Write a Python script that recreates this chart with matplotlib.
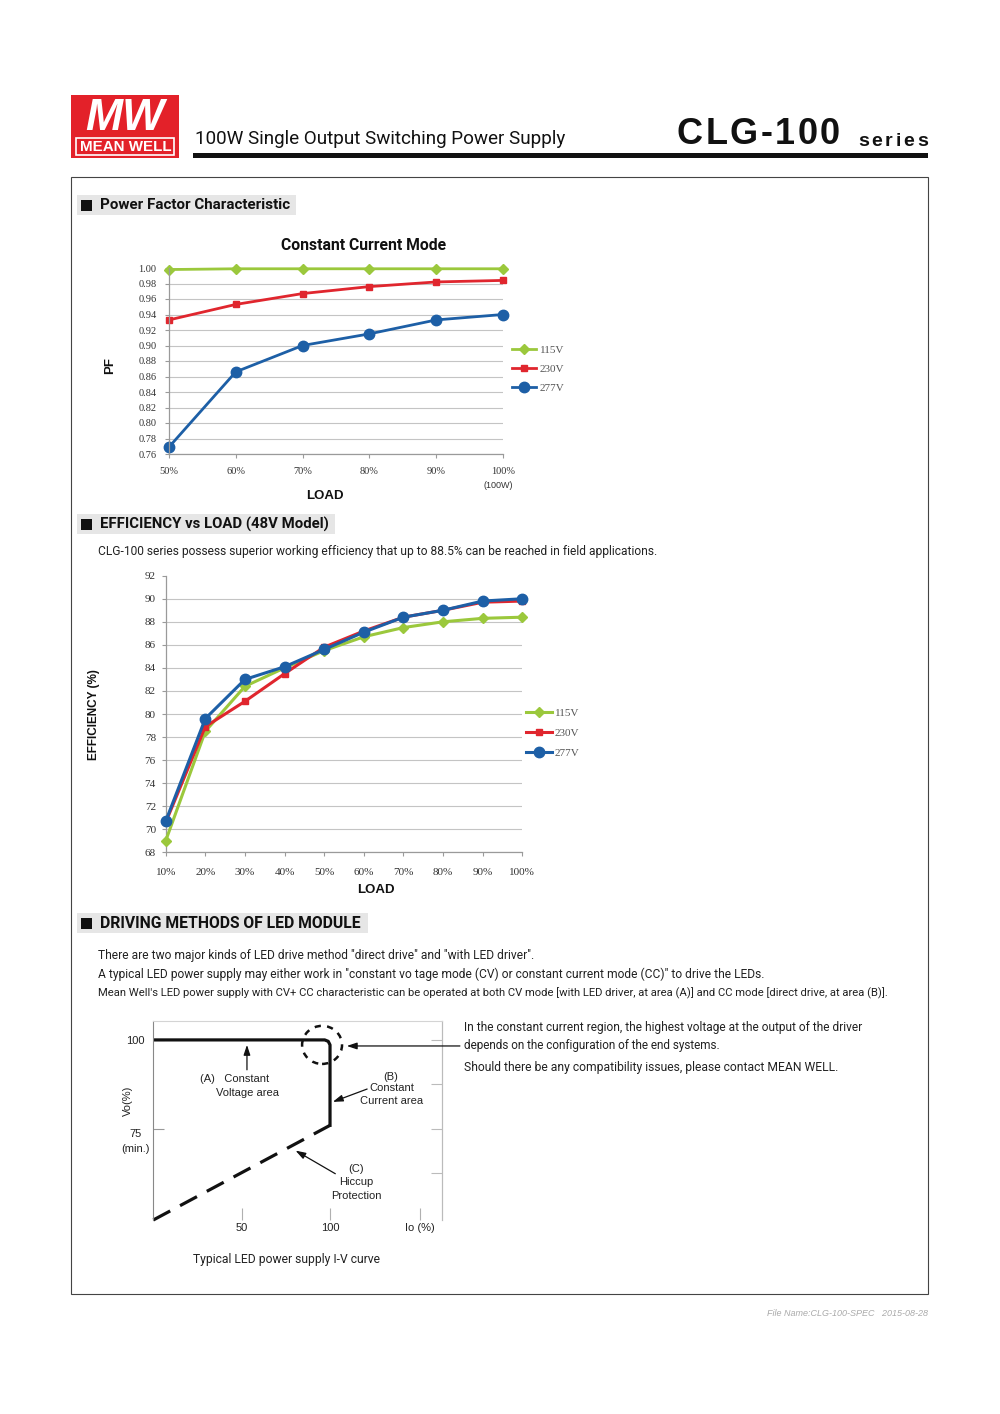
#recreate the MEAN WELL CLG-100 datasheet page (PF, efficiency, I-V curve)

#imports
import matplotlib
matplotlib.use('Agg')
import matplotlib.pyplot as plt
import matplotlib.transforms as mtransforms
from matplotlib.patches import Rectangle, Ellipse

#data
pf_load = [50, 60, 70, 80, 90, 100]
pf_ticklabels = ['50%', '60%', '70%', '80%', '90%', '100%']
pf_yticks = [0.76, 0.78, 0.80, 0.82, 0.84, 0.86, 0.88, 0.90, 0.92, 0.94, 0.96, 0.98, 1.00]
pf_115 = [0.998, 0.999, 0.999, 0.999, 0.999, 0.999]
pf_230 = [0.933, 0.953, 0.967, 0.976, 0.982, 0.984]
pf_277 = [0.769, 0.866, 0.900, 0.915, 0.933, 0.940]

eff_load = [10, 20, 30, 40, 50, 60, 70, 80, 90, 100]
eff_ticklabels = ['10%', '20%', '30%', '40%', '50%', '60%', '70%', '80%', '90%', '100%']
eff_yticks = [68, 70, 72, 74, 76, 78, 80, 82, 84, 86, 88, 90, 92]
eff_115 = [69.0, 78.5, 82.4, 84.0, 85.5, 86.7, 87.5, 88.0, 88.3, 88.4]
eff_230 = [70.6, 78.9, 81.1, 83.5, 85.8, 87.2, 88.4, 89.0, 89.7, 89.8]
eff_277 = [70.7, 79.6, 83.0, 84.1, 85.6, 87.1, 88.4, 89.0, 89.8, 90.0]

#I-V curve (Io %, Vo %)
iv_cv_x = [0, 97, 99, 100, 100]
iv_cv_y = [100, 100, 99.6, 98.6, 76]
iv_hiccup_x = [0, 100]
iv_hiccup_y = [49.4, 76]

series_names = ['115V', '230V', '277V']
GREEN = '#9bc83c'
RED = '#e0262e'
BLUE = '#1d5fa6'

BODY = 'Roboto'
SERIF = 'Liberation Serif'
SANS = 'Liberation Sans'

fig = plt.figure(figsize=(10, 14.14), dpi=100)
renderer = fig.canvas.get_renderer()
#pixel coords, origin top-left
T = mtransforms.Affine2D().scale(1 / 1000, -1 / 1414).translate(0, 1) + fig.transFigure


def box(x0, y0, x1, y1):
    return [x0 / 1000, 1 - y1 / 1414, (x1 - x0) / 1000, (y1 - y0) / 1414]


def txt(x, y, s, **kw):
    kw.setdefault('va', 'center')
    return fig.text(x, y, s, transform=T, **kw)


#text squeezed to the width it has on the sheet
def fit(x, y, s, width, **kw):
    kw.setdefault('family', BODY)
    kw.setdefault('color', '#222')
    t = txt(x, y, s, fontsize=10, **kw)
    w = t.get_window_extent(renderer).width
    t.set_fontsize(10 * width / w)
    return t


#letter-spaced text between x0 and x1
def spaced(x0, x1, y, s, **kw):
    ts = [txt(0, y, c, **kw) for c in s]
    ws = [t.get_window_extent(renderer).width for t in ts]
    gap = (x1 - x0 - sum(ws)) / (len(s) - 1)
    x = x0
    for t, w in zip(ts, ws):
        t.set_x(x)
        x += w + gap


#header
fig.patches.append(Rectangle((71, 95), 108, 63, transform=T, fc='#e32129', ec='none'))
txt(125, 118, 'MW', ha='center', color='white', fontsize=32, fontweight='bold',
    fontstyle='italic', family=SANS)
fig.patches.append(Rectangle((76, 138), 98, 17, transform=T, fc='none', ec='white', lw=1.2))
fit(80, 147, 'MEAN WELL', 91, color='white', fontweight='bold', family=SANS)
fit(195, 139, '100W Single Output Switching Power Supply', 371, color='#111')
spaced(677, 840, 134, 'CLG-100', fontsize=26, fontweight='bold', color='#111', family=SANS)
spaced(858, 928, 141, 'series', fontsize=14, fontweight='bold', color='#111', family=SANS)
fig.patches.append(Rectangle((193, 153), 735, 5, transform=T, fc='#111', ec='none'))

#page frame
fig.patches.append(Rectangle((71, 177), 857, 1117, transform=T, fc='none', ec='#444', lw=0.8))


def section(y, x1, label):
    fig.patches.append(Rectangle((77, y - 10), x1 - 77, 20, transform=T, fc='#e6e6e6', ec='none'))
    fig.patches.append(Rectangle((81, y - 5.5), 11, 11, transform=T, fc='#111', ec='none'))
    fit(100, y, label, x1 - 106, fontweight='bold', color='#111')


section(205, 296, 'Power Factor Characteristic')
section(524, 335, 'EFFICIENCY vs LOAD (48V Model)')
section(923, 368, 'DRIVING METHODS OF LED MODULE')


def style_axes(ax, tick_size):
    for side in ['top', 'right']:
        ax.spines[side].set_visible(False)
    for side in ['left', 'bottom']:
        ax.spines[side].set_color('#9a9a9a')
        ax.spines[side].set_linewidth(0.9)
    ax.yaxis.grid(True, color='#c4c4c4', lw=0.8)
    ax.set_axisbelow(True)
    ax.tick_params(colors='#9a9a9a', labelcolor='#333', length=3, labelsize=tick_size)
    for lab in ax.get_xticklabels() + ax.get_yticklabels():
        lab.set_family(SERIF)


#PF chart
ax1 = fig.add_axes(box(169, 268, 503, 454))
l1, = ax1.plot(pf_load, pf_115, color=GREEN, lw=2, marker='D', ms=5, clip_on=False)
l2, = ax1.plot(pf_load, pf_230, color=RED, lw=2, marker='s', ms=4.5, clip_on=False)
l3, = ax1.plot(pf_load, pf_277, color=BLUE, lw=2, marker='o', ms=7.5, clip_on=False)
ax1.set_xlim(50, 100)
ax1.set_ylim(0.76, 1.00)
ax1.set_xticks(pf_load)
ax1.set_xticklabels(pf_ticklabels)
ax1.set_yticks(pf_yticks)
ax1.set_yticklabels(['%.2f' % v for v in pf_yticks])
style_axes(ax1, 7.5)
ax1.tick_params(axis='x', pad=6)
ax1.tick_params(axis='y', pad=6)
fit(364, 245, 'Constant Current Mode', 165, ha='center', fontweight='bold', color='#111')
txt(110, 366, 'PF', ha='center', rotation=90, fontsize=9.5, fontweight='bold', color='#111', family=SANS)
txt(325, 496, 'LOAD', ha='center', fontsize=9.5, fontweight='bold', color='#111', family=SANS)
txt(498, 486, '(100W)', ha='center', fontsize=6.5, color='#333', family=SANS)
ax1.legend([l1, l2, l3], series_names, loc='center left', bbox_to_anchor=(512 / 1000, 1 - 369 / 1414),
           bbox_transform=fig.transFigure, frameon=False, handlelength=2.2, handletextpad=0.3,
           labelspacing=0.8, borderaxespad=0, borderpad=0,
           prop=dict(family=SERIF, size=8), labelcolor='#555')

#efficiency chart
fit(98, 551, 'CLG-100 series possess superior working efficiency that up to 88.5% can be reached in field applications.', 560)
ax2 = fig.add_axes(box(165.7, 575.7, 522.3, 852.3))
m1, = ax2.plot(eff_load, eff_115, color=GREEN, lw=2.2, marker='D', ms=5.5, clip_on=False, zorder=3)
m2, = ax2.plot(eff_load, eff_230, color=RED, lw=2.2, marker='s', ms=5, clip_on=False, zorder=4)
m3, = ax2.plot(eff_load, eff_277, color=BLUE, lw=2.2, marker='o', ms=7.5, clip_on=False, zorder=5)
ax2.set_xlim(10, 100)
ax2.set_ylim(68, 92)
ax2.set_xticks(eff_load)
ax2.set_xticklabels(eff_ticklabels)
ax2.set_yticks(eff_yticks)
ax2.set_yticklabels([str(v) for v in eff_yticks])
style_axes(ax2, 8)
ax2.yaxis.get_gridlines()[-1].set_visible(False)
ax2.tick_params(axis='x', pad=8)
ax2.tick_params(axis='y', pad=4)
txt(94, 715, 'EFFICIENCY (%)', ha='center', rotation=90, fontsize=8.5, fontweight='bold', color='#111', family=SANS)
txt(376, 890, 'LOAD', ha='center', fontsize=9.5, fontweight='bold', color='#111', family=SANS)
ax2.legend([m1, m2, m3], series_names, loc='center left', bbox_to_anchor=(526 / 1000, 1 - 733 / 1414),
           bbox_transform=fig.transFigure, frameon=False, handlelength=2.3, handletextpad=0.3,
           labelspacing=0.95, borderaxespad=0, borderpad=0,
           prop=dict(family=SERIF, size=8), labelcolor='#555')

#driving methods text
lines = [
    (955, 438, 'There are two major kinds of LED drive method "direct drive" and "with LED driver".'),
    (974, 665, 'A typical LED power supply may either work in "constant vo tage mode (CV) or constant current mode (CC)" to drive the LEDs.'),
    (993, 797, "Mean Well's LED power supply with CV+ CC characteristic can be operated at both CV mode [with LED driver, at area (A)] and CC mode [direct drive, at area (B)]."),
]
for y, w, s in lines:
    fit(98, y, s, w)
right_lines = [
    (1027, 400, 'In the constant current region, the highest voltage at the output of the driver'),
    (1046, 261, 'depends on the configuration of the end systems.'),
    (1067, 374, 'Should there be any compatibility issues, please contact MEAN WELL.'),
]
for y, w, s in right_lines:
    fit(464, y, s, w)

#I-V curve
ax3 = fig.add_axes(box(153.3, 1020.7, 441.7, 1220))
ax3.plot(iv_cv_x, iv_cv_y, color='#111', lw=2.3, solid_joinstyle='round')
ax3.plot(iv_hiccup_x, iv_hiccup_y, color='#111', lw=2.3, dashes=(6, 3.5), clip_on=False)
ax3.set_xlim(0, 163.2)
ax3.set_ylim(49.4, 105.4)
ax3.spines['bottom'].set_visible(False)
ax3.spines['left'].set_color('#888')
ax3.spines['top'].set_color('#d4d4d4')
ax3.spines['right'].set_color('#bbbbbb')
ax3.set_xticks([50, 100, 151])
ax3.set_xticklabels(['50', '100', 'Io (%)'])
ax3.set_yticks([75, 100])
ax3.set_yticklabels(['75\n(min.)', '100'])
ax3.tick_params(axis='x', direction='in', length=9, colors='#b0b0b0', labelcolor='#222', labelsize=8, pad=2)
ax3.tick_params(axis='y', direction='in', length=8, colors='#999', labelcolor='#222', labelsize=8, pad=13)
for lab in ax3.get_xticklabels():
    lab.set_family(SANS)
for lab in ax3.get_yticklabels():
    lab.set_family(SANS)
    lab.set_ha('center')
ax3.get_yticklabels()[0].set_va('top')
ax3.get_yticklabels()[0].set_y(78.3)
ax3.get_yticklabels()[0].set_linespacing(1.6)
sec = ax3.secondary_yaxis('right')
sec.set_yticks([62.5, 75, 87.5, 100])
sec.set_yticklabels([])
sec.tick_params(direction='in', length=8, colors='#bbbbbb')
sec.spines['right'].set_color('#bbbbbb')
ax3.add_patch(Ellipse((95.5, 98.6), 22.6, 10.7, fill=False, ec='#111', lw=1.8, ls=(0, (2.5, 2.5)),
                      clip_on=False))
arrow = dict(arrowstyle='-|>,head_length=0.6,head_width=0.2', color='#111', lw=0.9, shrinkA=0, shrinkB=0)
ax3.annotate('', xy=(53, 98.6), xytext=(53, 91.6), arrowprops=arrow)
ax3.annotate('', xy=(101.6, 82.6), xytext=(121, 86.2), arrowprops=arrow)
ax3.annotate('', xy=(80.5, 68.9), xytext=(103, 62.4), arrowprops=arrow)
ax3.annotate('', xy=(109.5, 98.3), xytext=(173.5, 98.3), arrowprops=arrow, annotation_clip=False)
ax3.text(-0.088, 0.6, 'Vo(%)', transform=ax3.transAxes, rotation=90, ha='center', va='center',
         fontsize=8, color='#222', family=SANS)
iv_kw = dict(fontsize=8, color='#222', family=SANS, va='center')
txt(200, 1079, '(A)   Constant', **iv_kw)
txt(248, 1093, 'Voltage area', ha='center', **iv_kw)
txt(391, 1077, '(B)', ha='center', **iv_kw)
txt(392, 1088, 'Constant', ha='center', **iv_kw)
txt(392, 1101, 'Current area', ha='center', **iv_kw)
txt(356, 1169, '(C)', ha='center', **iv_kw)
txt(356, 1182, 'Hiccup', ha='center', **iv_kw)
txt(356, 1196, 'Protection', ha='center', **iv_kw)
fit(193, 1260, 'Typical LED power supply I-V curve', 188)

#footer
fit(767, 1314, 'File Name:CLG-100-SPEC   2015-08-28', 161, color='#aaa', fontstyle='italic', family=SANS)

fig.savefig('out.png', dpi=100)
